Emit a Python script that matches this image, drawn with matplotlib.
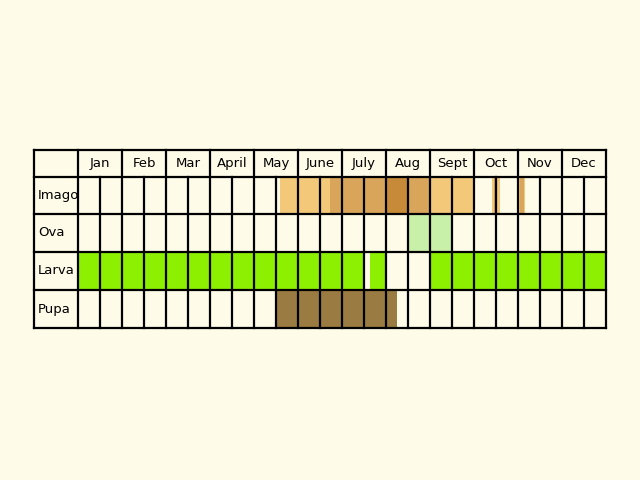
import matplotlib
matplotlib.use("Agg")
import matplotlib.pyplot as plt
from matplotlib.patches import Rectangle

months = ["Jan","Feb","Mar","April","May","June","July","Aug","Sept","Oct","Nov","Dec"]
stages = ["Imago","Ova","Larva","Pupa"]
# intervals in half-month column units: (start, end, color)
imago = [(9.2,11.45,"#f3c878"),(11.45,14,"#d9a55a"),(14,15,"#c68a38"),(15,16,"#d9a55a"),
         (16,18,"#f3c878"),(18.8,19.2,"#f3c878"),(18.9,19.05,"#d9a55a"),(20,20.3,"#f3c878"),(20.1,20.25,"#d9a55a")]
ova = [(15,17,"#c8f0a8")]
larva = [(0,13,"#8cf000"),(13.25,14,"#8cf000"),(16,24,"#8cf000")]
pupa = [(9,14.5,"#9a7c42")]
rows = [imago, ova, larva, pupa]

bg = "#fefbe8"
fig = plt.figure(figsize=(6.4,4.8), dpi=100, facecolor=bg)
ax = fig.add_axes([0,0,1,1])
ax.set_xlim(0,640); ax.set_ylim(480,0); ax.axis("off")
x0, cw, lx = 78, 22, 34
hy0, hy1 = 150, 177
rh = [(177,214),(214,252),(252,290),(290,328)]

for (y0,y1), intervals in zip(rh, rows):
    for s,e,c in intervals:
        ax.add_patch(Rectangle((x0+s*cw, y0), (e-s)*cw, y1-y0, color=c, lw=0))

lw = 1.6
# horizontal lines
for y in [hy0, hy1] + [r[1] for r in rh]:
    ax.plot([lx, x0+24*cw], [y, y], color="black", lw=lw)
ax.plot([lx,lx],[hy0,328],color="black",lw=lw)
for i in range(25):
    x = x0+i*cw
    if i % 2 == 0:
        ax.plot([x,x],[hy0,328],color="black",lw=lw)
    else:
        ax.plot([x,x],[hy1,328],color="black",lw=lw)
for i,m in enumerate(months):
    ax.text(x0+(2*i+1)*cw, (hy0+hy1)/2, m, ha="center", va="center", fontsize=9.5)
for (y0,y1), s in zip(rh, stages):
    ax.text(lx+4, (y0+y1)/2, s, ha="left", va="center", fontsize=9.5)
fig.savefig("out.png", dpi=100, facecolor=bg)
